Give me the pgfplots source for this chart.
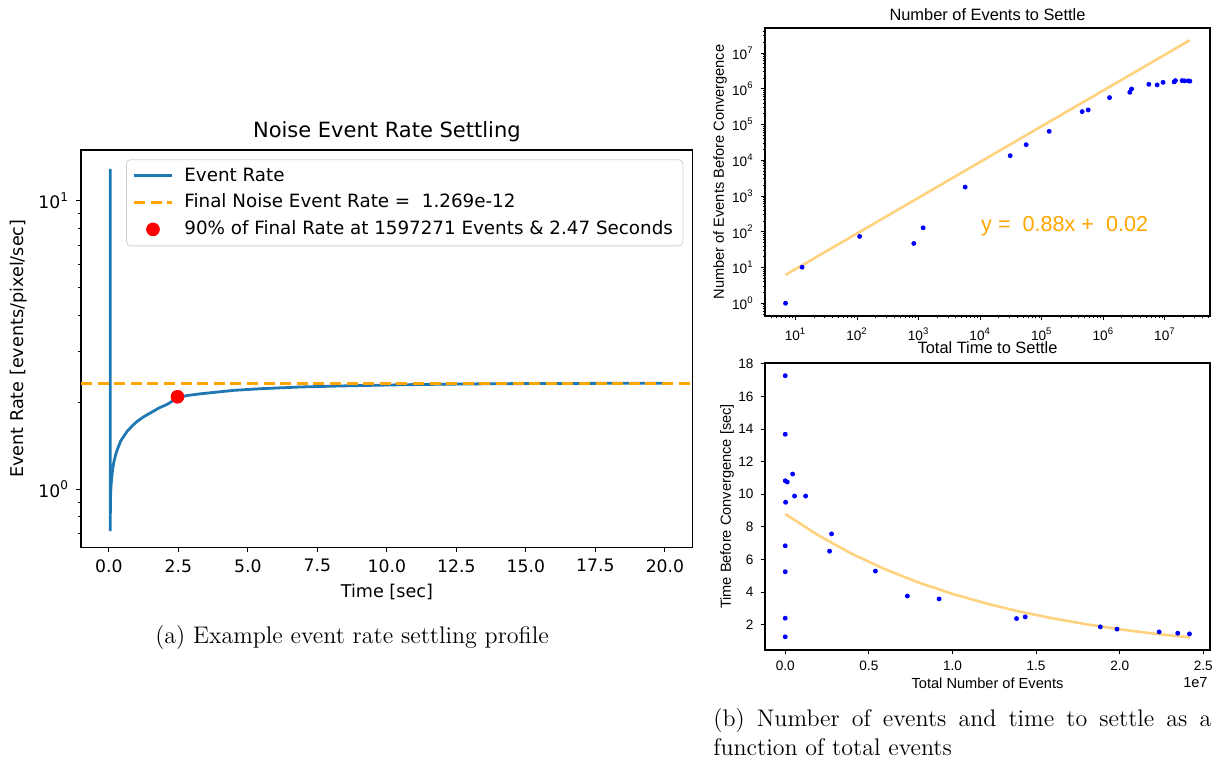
\documentclass[border=0pt]{standalone}
\usepackage{fontspec}
\newfontfamily\dejavu{DejaVu Sans}
\newfontfamily\libsans{Liberation Sans}
\usepackage{pgfplots}
\pgfplotsset{compat=1.18}
\definecolor{mplblue}{HTML}{1F77B4}
\definecolor{mplorange}{HTML}{FFA500}
\definecolor{fitorange}{HTML}{FFD280}
\definecolor{ptblue}{RGB}{0,0,255}
\pgfplotsset{
  every axis title shift=0pt,
  lineleg/.style={legend image code/.code={\draw[##1] (0pt,0pt) -- (19pt,0pt);}},
  dotleg/.style={legend image code/.code={\draw[##1] plot coordinates {(9.5pt,0pt)};}},
}

\begin{document}
\begin{tikzpicture}
\path[use as bounding box] (0pt,0pt) rectangle (607pt,-379.5pt);

% (a) settling profile
\begin{axis}[
    at={(40.5pt,-273.65pt)}, anchor=south west,
    scale only axis, width=305.85pt, height=198.65pt,
    xmin=-1, xmax=21, ymode=log, ymin=0.628, ymax=15.0,
    xtick={0,2.5,...,20},
    ytick={1,10}, yticklabels={10\textsuperscript{0},10\textsuperscript{1}},
    minor ytick={0.7,0.8,0.9,2,3,4,5,6,7,8,9},
    tick align=outside, tick pos=left,
    major tick length=2.5pt, minor tick length=1.5pt,
    every tick/.append style={black, line width=0.5pt},
    axis line style={line width=0.6pt},
    ticklabel style={font=\dejavu\fontsize{8.6}{10}\selectfont},
    /pgf/number format/assume math mode=true,
    xticklabel style={/pgf/number format/fixed, /pgf/number format/fixed zerofill, /pgf/number format/precision=1},
    title={Noise Event Rate Settling},
    title style={font=\dejavu\fontsize{10.5}{12}\selectfont, at={(axis description cs:0.5,1.045)}, anchor=center},
    xlabel={Time [sec]},
    xlabel style={font=\dejavu\fontsize{8.8}{10}\selectfont, at={(axis description cs:0.5,-0.112)}, anchor=center},
    ylabel={Event Rate [events/pixel/sec]},
    ylabel style={font=\dejavu\fontsize{8.8}{10}\selectfont, at={(axis description cs:-0.102,0.5)}, anchor=center},
    legend style={at={(0.9847,0.9766)}, anchor=north east, draw=black!18, fill=white,
        rounded corners=2pt,
        font=\dejavu\fontsize{9.15}{10}\selectfont, inner xsep=3pt, inner ysep=2pt, row sep=1pt,
        /tikz/every odd column/.append style={column sep=3.5pt}},
    legend cell align=left,
]
\addplot[mplblue, line width=1.4pt, lineleg]
  coordinates {(0.05,12.9) (0.05,6.3) (0.05,0.715) (0.06,0.93) (0.08,1.03) (0.13,1.155)
    (0.18,1.24) (0.25,1.32) (0.33,1.39) (0.43,1.47) (0.55,1.53) (0.67,1.59) (0.85,1.66)
    (1.03,1.72) (1.25,1.78) (1.51,1.84) (1.8,1.91) (2.11,1.97) (2.47,2.07) (2.8,2.11)
    (3.3,2.14) (3.9,2.17) (4.5,2.20) (5.5,2.23) (6.9,2.26) (8.5,2.28) (10.5,2.30)
    (12,2.31) (14,2.32) (17,2.325) (20,2.33)};
\addlegendentry{Event Rate}
\addplot[mplorange, line width=1.4pt, dash pattern=on 5.5pt off 2.8pt, lineleg]
  coordinates {(-1,2.33) (21,2.33)};
\addlegendentry{Final Noise Event Rate =\ \ 1.269e-12}
\addplot[only marks, mark=*, mark size=3.2pt, red, mark options={draw=red, fill=red}, dotleg]
  coordinates {(2.47,2.09)};
\addlegendentry{90\% of Final Rate at 1597271 Events \& 2.47 Seconds}
\end{axis}

% (b) top: number of events to settle
\begin{axis}[
    at={(382.5pt,-158pt)}, anchor=south west,
    scale only axis, width=222.5pt, height=144pt,
    xmode=log, ymode=log, xmin=3.2, xmax=5.4e7, ymin=0.44, ymax=5.0e7,
    xtick={1e1,1e2,1e3,1e4,1e5,1e6,1e7},
    xticklabels={10\textsuperscript{1},10\textsuperscript{2},10\textsuperscript{3},10\textsuperscript{4},10\textsuperscript{5},10\textsuperscript{6},10\textsuperscript{7}},
    ytick={1,1e1,1e2,1e3,1e4,1e5,1e6,1e7},
    yticklabels={10\textsuperscript{0},10\textsuperscript{1},10\textsuperscript{2},10\textsuperscript{3},10\textsuperscript{4},10\textsuperscript{5},10\textsuperscript{6},10\textsuperscript{7}},
    minor xtick={4,5,6,7,8,9,20,30,40,50,60,70,80,90,200,300,400,500,600,700,800,900,
        2e3,3e3,4e3,5e3,6e3,7e3,8e3,9e3,2e4,3e4,4e4,5e4,6e4,7e4,8e4,9e4,
        2e5,3e5,4e5,5e5,6e5,7e5,8e5,9e5,2e6,3e6,4e6,5e6,6e6,7e6,8e6,9e6,2e7,3e7,4e7,5e7},
    minor ytick={0.5,0.6,0.7,0.8,0.9,2,3,4,5,6,7,8,9,20,30,40,50,60,70,80,90,200,300,400,500,600,700,800,900,
        2e3,3e3,4e3,5e3,6e3,7e3,8e3,9e3,2e4,3e4,4e4,5e4,6e4,7e4,8e4,9e4,
        2e5,3e5,4e5,5e5,6e5,7e5,8e5,9e5,2e6,3e6,4e6,5e6,6e6,7e6,8e6,9e6,2e7,3e7,4e7},
    tick align=outside, tick pos=left,
    major tick length=2.2pt, minor tick length=1.2pt,
    every tick/.append style={black, line width=0.45pt},
    axis line style={line width=0.55pt},
    ticklabel style={font=\libsans\fontsize{6.8}{8}\selectfont},
    title={Number of Events to Settle},
    title style={font=\libsans\fontsize{8.2}{10}\selectfont, at={(axis description cs:0.5,1.045)}, anchor=center},
    ylabel={Number of Events Before Convergence},
    ylabel style={font=\libsans\fontsize{7.3}{9}\selectfont, at={(axis description cs:-0.101,0.5)}, anchor=center},
]
\addplot[fitorange, line width=1.3pt] coordinates {(6.9,6.2) (2.54e7,2.28e7)};
\addplot[only marks, mark=*, mark size=1pt, ptblue, mark options={draw=ptblue, fill=ptblue}]
  coordinates {(6.9,1) (12.8,10.2) (110,74) (835,47) (1185,129) (5700,1775) (30700,13400)
    (55800,27200) (132000,64400) (453000,229000) (567000,255000) (1.26e6,565000)
    (2.69e6,795000) (2.87e6,986000) (5.48e6,1.33e6) (7.48e6,1.28e6) (9.34e6,1.51e6)
    (1.41e7,1.55e6) (1.48e7,1.69e6) (1.90e7,1.69e6) (2.09e7,1.66e6) (2.39e7,1.66e6) (2.54e7,1.63e6)};
\node[anchor=west, text=mplorange, font=\libsans\fontsize{10.8}{12}\selectfont, inner sep=0pt]
  at (rel axis cs:0.485,0.3125) {y =\ \ 0.88x +\ \ 0.02};
\end{axis}

% (b) bottom: time to settle
\begin{axis}[
    at={(382.5pt,-325pt)}, anchor=south west,
    scale only axis, width=222.5pt, height=143.5pt,
    xmin=-0.121, xmax=2.54, ymin=0.45, ymax=18.05,
    clip=false,
    xtick={0,0.5,...,2.5}, ytick={2,4,...,18},
    tick align=outside, tick pos=left,
    major tick length=2.2pt,
    every tick/.append style={black, line width=0.45pt},
    axis line style={line width=0.55pt},
    ticklabel style={font=\libsans\fontsize{6.8}{8}\selectfont},
    /pgf/number format/assume math mode=true,
    xticklabel style={/pgf/number format/fixed, /pgf/number format/fixed zerofill, /pgf/number format/precision=1},
    scaled x ticks=false,
    title={Total Time to Settle},
    title style={font=\libsans\fontsize{8.2}{10}\selectfont, at={(axis description cs:0.5,1.052)}, anchor=center},
    xlabel={Total Number of Events},
    xlabel style={font=\libsans\fontsize{7.3}{9}\selectfont, at={(axis description cs:0.5,-0.115)}, anchor=center},
    ylabel={Time Before Convergence [sec]},
    ylabel style={font=\libsans\fontsize{7.3}{9}\selectfont, at={(axis description cs:-0.0854,0.5)}, anchor=center},
]
\addplot[fitorange, line width=1.3pt] coordinates {(0,8.79) (0.2,7.47) (0.4,6.34) (0.6,5.39)
    (0.8,4.58) (1.0,3.89) (1.2,3.31) (1.4,2.81) (1.6,2.39) (1.8,2.03) (2.0,1.72) (2.2,1.46) (2.42,1.22)};
\addplot[only marks, mark=*, mark size=1pt, ptblue, mark options={draw=ptblue, fill=ptblue}]
  coordinates {(0,17.27) (0,13.68) (0,10.83) (0.012,10.75) (0.044,11.24) (0.056,9.89)
    (0.122,9.89) (0.002,9.51) (0,6.84) (0,5.25) (0,2.40) (0,1.26) (0.265,6.51) (0.277,7.57)
    (0.539,5.29) (0.73,3.76) (0.92,3.58) (1.383,2.38) (1.435,2.48) (1.884,1.87) (1.984,1.73)
    (2.236,1.56) (2.347,1.48) (2.417,1.44)};
\node[anchor=east, font=\libsans\fontsize{7.3}{9}\selectfont, inner sep=0pt]
  at (rel axis cs:0.9955,-0.115) {1e7};
\end{axis}

% captions
\node[anchor=base, inner sep=0pt, font=\fontsize{12}{14.4}\selectfont] at (176pt,-321.5pt)
  {(a) Example event rate settling profile};
\node[anchor=base west, inner sep=0pt, font=\fontsize{12}{14.4}\selectfont] at (356.5pt,-363.3pt)
  {\makebox[249pt][s]{(b) Number of events and time to settle as a}};
\node[anchor=base west, inner sep=0pt, font=\fontsize{12}{14.4}\selectfont] at (356.5pt,-377.5pt)
  {function of total events};
\end{tikzpicture}
\end{document}
